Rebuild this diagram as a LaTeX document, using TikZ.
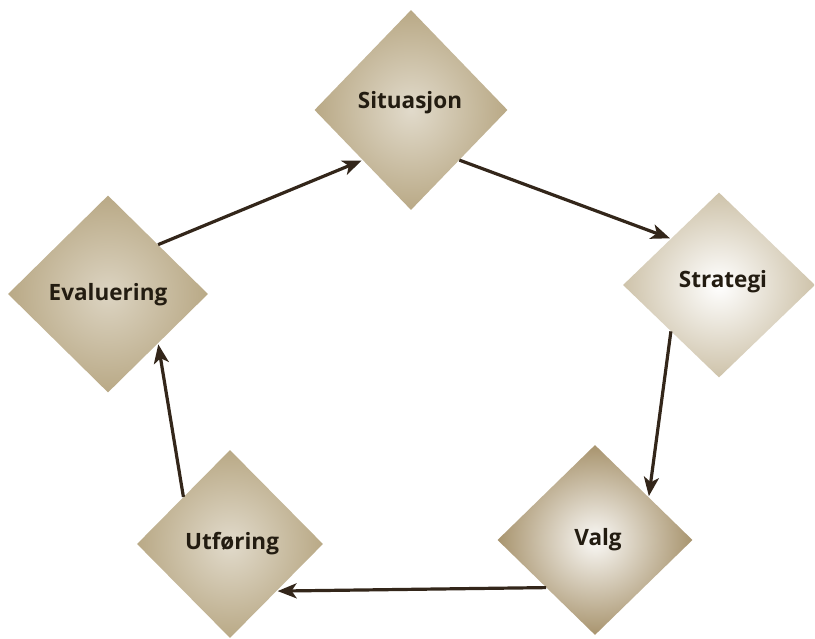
\documentclass[tikz,border=0pt]{standalone}
\usepackage{fontspec}
\setmainfont{Open Sans}
\usetikzlibrary{shapes.geometric,arrows.meta,calc}

\definecolor{ink}{HTML}{231C11}
\definecolor{arrowink}{HTML}{33261A}
\definecolor{tan}{HTML}{B9A986}
\definecolor{tanlight}{HTML}{DCD4C2}
\definecolor{tandark}{HTML}{A8946E}

\tikzset{
  phase/.style={diamond, aspect=1, inner sep=0pt, draw=none,
    font=\fontsize{22.5}{24}\selectfont\bfseries, text=ink},
  flow/.style={draw=arrowink, line width=3.2pt,
    -{Stealth[length=19pt, width=15pt, inset=5pt]}, shorten >=1pt},
}

\begin{document}
\begin{tikzpicture}[x=1pt, y=-1pt]
  \useasboundingbox (0,0) rectangle (815,639);

  % the five phases of the cycle
  \node[phase, minimum width=193pt, minimum height=200pt,
        inner color=tanlight!85!white, outer color=tan] (sit) at (411,110) {};
  \node[phase, minimum width=192pt, minimum height=185pt,
        inner color=white, outer color=tanlight!60!tan] (strat) at (719,285) {};
  \node[phase, minimum width=195pt, minimum height=190pt,
        inner color=white!85!tanlight, outer color=tandark] (valg) at (595,540) {};
  \node[phase, minimum width=186pt, minimum height=188pt,
        inner color=tanlight!85!white, outer color=tan] (utf) at (230,544) {};
  \node[phase, minimum width=200pt, minimum height=197pt,
        inner color=tanlight, outer color=tan] (eval) at (108,294) {};

  % labels
  \node[phase] at (410,103) {Situasjon};
  \node[phase] at (723,282) {Strategi};
  \node[phase] at (598,540) {Valg};
  \node[phase] at (232,544) {Utføring};
  \node[phase] at (108,295) {Evaluering};

  % connectors between the midpoints of facing edges
  \draw[flow] ($(eval.north)!0.5!(eval.east)$) -- ($(sit.west)!0.5!(sit.south)$);
  \draw[flow] ($(sit.south)!0.5!(sit.east)$) -- ($(strat.west)!0.5!(strat.north)$);
  \draw[flow] ($(strat.west)!0.5!(strat.south)$) -- ($(valg.north)!0.55!(valg.east)$);
  \draw[flow] ($(valg.west)!0.5!(valg.south)$) -- ($(utf.east)!0.5!(utf.south)$);
  \draw[flow] ($(utf.west)!0.5!(utf.north)$) -- ($(eval.east)!0.5!(eval.south)$);
\end{tikzpicture}
\end{document}
